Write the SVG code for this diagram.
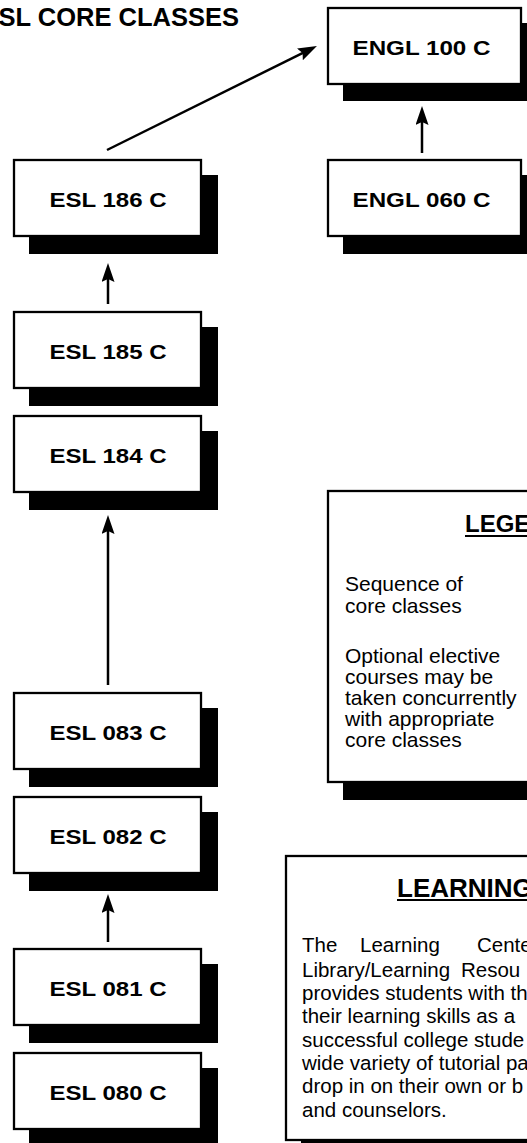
<svg xmlns="http://www.w3.org/2000/svg" width="527" height="1143" viewBox="0 0 527 1143">
<style>
.box{fill:#fff;stroke:#000;stroke-width:2.3}
.sh{fill:#000}
.lbl{font-family:"Liberation Sans",Arial,Helvetica,sans-serif;font-weight:bold;font-size:21px;text-anchor:middle}
.title{font-family:"Liberation Sans",Arial,Helvetica,sans-serif;font-weight:bold}
.body{font-family:"Liberation Sans",Arial,Helvetica,sans-serif;font-size:21px}
.para{font-family:"Liberation Sans",Arial,Helvetica,sans-serif;font-size:20.5px}
.conn{stroke:#000;stroke-width:2.5;fill:none;marker-end:url(#ah)}
.ul{stroke:#000;stroke-width:2.2}
</style>
<defs>
<marker id="ah" markerUnits="userSpaceOnUse" viewBox="0 0 20 14" markerWidth="20" markerHeight="14" refX="9" refY="6.5" orient="auto">
<path d="M0,0 L19,6.5 L0,13 L3,6.5 z" fill="#000"/>
</marker>
</defs>
<rect width="527" height="1143" fill="#fff"/>
<text class="title" x="239" y="26" font-size="25.5" text-anchor="end">ESL CORE CLASSES</text>

<g id="connectors">
<line class="conn" x1="107" y1="150" x2="308" y2="50.4"/>
<line class="conn" x1="422" y1="153" x2="422" y2="116"/>
<line class="conn" x1="108" y1="304" x2="108" y2="273"/>
<line class="conn" x1="108" y1="685" x2="108" y2="525"/>
<line class="conn" x1="108" y1="942" x2="108" y2="904"/>
</g>

<g id="engl100">
<rect class="sh" x="343" y="23" width="195" height="78"/>
<rect class="box" x="328" y="8" width="193" height="76"/>
<text class="lbl" x="421.5" y="55" textLength="138" lengthAdjust="spacingAndGlyphs">ENGL 100 C</text>
</g>
<g id="engl060">
<rect class="sh" x="343" y="175" width="195" height="79"/>
<rect class="box" x="328" y="160" width="193" height="76"/>
<text class="lbl" x="421.5" y="207" textLength="138" lengthAdjust="spacingAndGlyphs">ENGL 060 C</text>
</g>

<g id="esl186">
<rect class="sh" x="29" y="175" width="189" height="79"/>
<rect class="box" x="14" y="160" width="187" height="76"/>
<text class="lbl" x="108" y="207" textLength="117" lengthAdjust="spacingAndGlyphs">ESL 186 C</text>
</g>
<g id="esl185">
<rect class="sh" x="29" y="327" width="189" height="79"/>
<rect class="box" x="14" y="312" width="187" height="76"/>
<text class="lbl" x="108" y="359" textLength="117" lengthAdjust="spacingAndGlyphs">ESL 185 C</text>
</g>
<g id="esl184">
<rect class="sh" x="29" y="431" width="189" height="79"/>
<rect class="box" x="14" y="416" width="187" height="76"/>
<text class="lbl" x="108" y="463" textLength="117" lengthAdjust="spacingAndGlyphs">ESL 184 C</text>
</g>
<g id="esl083">
<rect class="sh" x="29" y="708" width="189" height="79"/>
<rect class="box" x="14" y="693" width="187" height="76"/>
<text class="lbl" x="108" y="740" textLength="117" lengthAdjust="spacingAndGlyphs">ESL 083 C</text>
</g>
<g id="esl082">
<rect class="sh" x="29" y="812" width="189" height="79"/>
<rect class="box" x="14" y="797" width="187" height="76"/>
<text class="lbl" x="108" y="844" textLength="117" lengthAdjust="spacingAndGlyphs">ESL 082 C</text>
</g>
<g id="esl081">
<rect class="sh" x="29" y="964" width="189" height="79"/>
<rect class="box" x="14" y="949" width="187" height="76"/>
<text class="lbl" x="108" y="996" textLength="117" lengthAdjust="spacingAndGlyphs">ESL 081 C</text>
</g>
<g id="esl080">
<rect class="sh" x="29" y="1068" width="189" height="79"/>
<rect class="box" x="14" y="1053" width="187" height="76"/>
<text class="lbl" x="108" y="1100" textLength="117" lengthAdjust="spacingAndGlyphs">ESL 080 C</text>
</g>

<g id="legend">
<rect class="sh" x="343" y="507" width="300" height="293"/>
<rect class="box" x="328" y="491" width="300" height="291"/>
<text class="title" x="465" y="532" font-size="24">LEGEND</text>
<line class="ul" x1="465" y1="536" x2="560" y2="536"/>
<text class="body" x="345" y="591">Sequence of</text>
<text class="body" x="345" y="613">core classes</text>
<text class="body" x="345" y="663">Optional elective</text>
<text class="body" x="345" y="684">courses may be</text>
<text class="body" x="345" y="705">taken concurrently</text>
<text class="body" x="345" y="726">with appropriate</text>
<text class="body" x="345" y="747">core classes</text>
</g>

<g id="learning">
<rect class="sh" x="301" y="871" width="300" height="300"/>
<rect class="box" x="286" y="856" width="300" height="284"/>
<text class="title" x="397" y="897" font-size="26">LEARNING</text>
<line class="ul" x1="397" y1="900" x2="560" y2="900"/>
<text class="para" y="952"><tspan x="302">The</tspan><tspan x="360">Learning</tspan><tspan x="477">Cente</tspan></text>
<text class="para" y="976.5"><tspan x="302">Library/Learning</tspan><tspan x="461">Resou</tspan></text>
<text class="para" x="302" y="1000">provides students with th</text>
<text class="para" x="302" y="1023">their learning skills as a</text>
<text class="para" x="302" y="1046.5">successful college stude</text>
<text class="para" x="302" y="1070">wide variety of tutorial pa</text>
<text class="para" x="302" y="1093">drop in on their own or b</text>
<text class="para" x="302" y="1117">and counselors.</text>
</g>
</svg>
